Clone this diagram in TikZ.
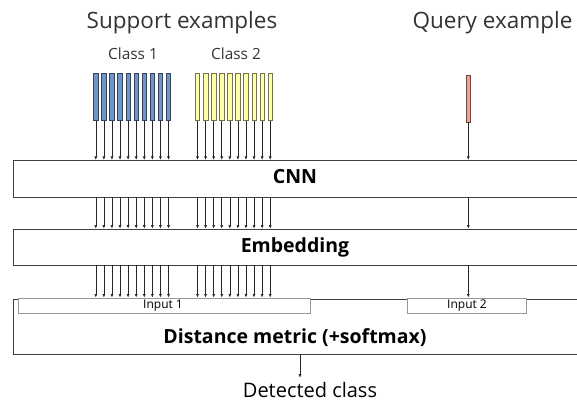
\documentclass[tikz,border=0pt]{standalone}
\usepackage{fontspec}
\setmainfont{Open Sans}
\usetikzlibrary{arrows.meta}
\definecolor{bluebar}{RGB}{111,149,200}
\definecolor{yellowbar}{RGB}{255,255,168}
\definecolor{pinkbar}{RGB}{244,160,144}
\tikzset{
  stage/.style={draw=black!75, line width=0.8pt, minimum width=565pt, inner sep=0pt},
  inbox/.style={draw=black!40, fill=white, line width=1pt, inner sep=0pt, minimum height=15pt},
  sample/.style={draw=#1!45!black, fill=#1, line width=0.6pt, minimum width=4.5pt, minimum height=47pt, inner sep=0pt},
  feed/.style={-{Latex[length=3.5pt,width=3pt]}, black!85, line width=0.6pt},
  title/.style={anchor=base, inner sep=0pt, text=black!80, font=\fontsize{22.5}{24}\selectfont},
  boxtext/.style={anchor=base, inner sep=0pt, font=\bfseries\fontsize{19.5}{21}\selectfont},
}
\begin{document}
\begin{tikzpicture}[x=1pt, y=-1pt]
    \useasboundingbox (0,0) rectangle (577,405);
    \clip (0,0) rectangle (577,405);
    %headings
    \node[title] at (182,28) (support) {Support examples};
    \node[title] at (492.5,28) (query) {Query example};
    \node[title, font=\fontsize{15.4}{17}\selectfont] at (133,59) (class1) {Class 1};
    \node[title, font=\fontsize{15.4}{17}\selectfont] at (236,59) (class2) {Class 2};
    %stages
    \node[stage, minimum height=37.5pt] at (295.5,179) (cnn) {};
    \node[stage, minimum height=36pt] at (295.5,247) (emb) {};
    \node[stage, minimum height=55.3pt] at (295.5,326.6) (dist) {};
    \node[inbox, minimum width=292pt] at (164.7,305.5) (in1) {};
    \node[inbox, minimum width=119pt] at (467.2,305.5) (in2) {};
    \node[boxtext] at (295,183) (cnnlbl) {CNN};
    \node[boxtext] at (295,252.3) (emblbl) {Embedding};
    \node[boxtext] at (295,343) (distlbl) {Distance metric (+softmax)};
    \node[anchor=base, inner sep=0pt, font=\fontsize{12}{13}\selectfont] at (163,308.5) (in1lbl) {Input 1};
    \node[anchor=base, inner sep=0pt, font=\fontsize{12}{13}\selectfont] at (467,308.5) (in2lbl) {Input 2};
    \node[anchor=base, inner sep=0pt, font=\fontsize{20}{22}\selectfont] at (310,397) (det) {Detected class};
    \coordinate (tap) at (300,377.7);
    %samples
    \foreach \i in {0,...,9} {
        \node[sample=bluebar] at (95.8+8.08*\i,97.2) (a\i) {};
        \node[sample=yellowbar] at (197.5+8.08*\i,97.2) (b\i) {};
        \path[feed]
            (a\i.south) edge (a\i.south |- cnn.north)
            (cnn.south -| a\i) edge (emb.north -| a\i)
            (emb.south -| a\i) edge (in1.north -| a\i)
            (b\i.south) edge (b\i.south |- cnn.north)
            (cnn.south -| b\i) edge (emb.north -| b\i)
            (emb.south -| b\i) edge (in1.north -| b\i);
    }
    \node[sample=pinkbar] at (468.3,98.5) (q) {};
    \path[feed]
        (q.south) edge (q.south |- cnn.north)
        (cnn.south -| q) edge (emb.north -| q)
        (emb.south -| q) edge (in2.north -| q)
        (tap |- dist.south) edge (tap);
\end{tikzpicture}
\end{document}
